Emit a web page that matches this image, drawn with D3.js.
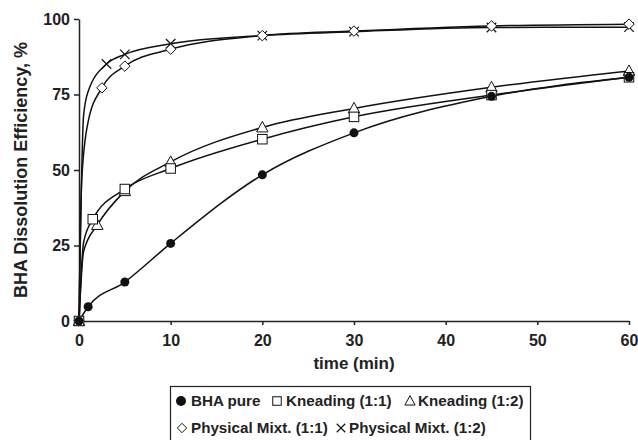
<!DOCTYPE html>
<html lang="en">
<head>
    <meta charset="UTF-8">
    <title>BHA Dissolution Efficiency</title>
    <script src="https://d3js.org/d3.v7.min.js"></script>
    <style>
        body {
            margin: 0;
            background: #fff;
            font-family: "Liberation Sans", Arial, sans-serif;
        }
        svg { display: block; }
        .tick text {
            font-size: 16px;
            font-weight: bold;
            fill: #222;
        }
        .axis path, .axis line {
            stroke: #222;
            stroke-width: 1.5px;
        }
        .series-line {
            fill: none;
            stroke: #111;
            stroke-width: 1.5px;
        }
        .axis-title {
            font-size: 17px;
            font-weight: bold;
            fill: #222;
        }
        .legend-text {
            font-size: 15.2px;
            font-weight: bold;
            fill: #222;
        }
    </style>
</head>
<body>
<div id="chart"></div>
<script>
    const width = 638;
    const height = 440;

    // measured points (with markers)
    const bhaTime = [0, 1, 5, 10, 20, 30, 45, 60];
    const bhaValue = [0, 4.7, 12.9, 25.7, 48.4, 62.3, 74.4, 80.7];

    const kn11Time = [0, 1.5, 5, 10, 20, 30, 45, 60];
    const kn11Value = [0, 33.7, 43.7, 50.5, 60.2, 67.6, 74.8, 80.7];

    const kn12Time = [0, 2, 5, 10, 20, 30, 45, 60];
    const kn12Value = [0, 31.8, 43, 52.7, 64.1, 70.4, 77.4, 82.8];

    const pm11Time = [0, 2.5, 5, 10, 20, 30, 45, 60];
    const pm11Value = [0, 77.2, 84.4, 90, 94.5, 96, 97.7, 98.3];

    const pm12Time = [0, 3, 5, 10, 20, 30, 45, 60];
    const pm12Value = [0, 85.1, 88.3, 91.8, 94.5, 95.8, 97.2, 97.3];

    // points read off the steep start of each curve (no marker shown)
    const kn11TraceTime = [0.5], kn11TraceValue = [26];
    const kn12TraceTime = [0.5], kn12TraceValue = [23];
    const pm11TraceTime = [0.3, 1], pm11TraceValue = [47, 66];
    const pm12TraceTime = [0.5, 1], pm12TraceValue = [68, 76];

    const xTicks = [0, 10, 20, 30, 40, 50, 60];
    const yTicks = [0, 25, 50, 75, 100];

    const zip = (t, v) => t.map((d, i) => ({ t: d, v: v[i] }));

    const series = [
        { name: "BHA pure", symbol: "circle", pts: zip(bhaTime, bhaValue), trace: [] },
        { name: "Kneading (1:1)", symbol: "square", pts: zip(kn11Time, kn11Value), trace: zip(kn11TraceTime, kn11TraceValue) },
        { name: "Kneading (1:2)", symbol: "triangle", pts: zip(kn12Time, kn12Value), trace: zip(kn12TraceTime, kn12TraceValue) },
        { name: "Physical Mixt. (1:1)", symbol: "diamond", pts: zip(pm11Time, pm11Value), trace: zip(pm11TraceTime, pm11TraceValue) },
        { name: "Physical Mixt. (1:2)", symbol: "cross", pts: zip(pm12Time, pm12Value), trace: zip(pm12TraceTime, pm12TraceValue) }
    ];

    const svg = d3.select("#chart").append("svg")
        .attr("width", width)
        .attr("height", height);

    const x = d3.scaleLinear().domain([0, 60]).range([79, 629]);
    const y = d3.scaleLinear().domain([0, 100]).range([321, 19]);

    // axes
    svg.append("g")
        .attr("class", "axis")
        .attr("transform", `translate(0,${y(0)})`)
        .call(d3.axisBottom(x).tickValues(xTicks).tickSize(4).tickSizeOuter(0).tickPadding(10));

    svg.append("g")
        .attr("class", "axis")
        .attr("transform", `translate(${x(0)},0)`)
        .call(d3.axisLeft(y).tickValues(yTicks).tickSize(5).tickSizeOuter(0).tickPadding(4));

    svg.append("text")
        .attr("class", "axis-title")
        .attr("x", 354)
        .attr("y", 369)
        .attr("text-anchor", "middle")
        .text("time (min)");

    svg.append("text")
        .attr("class", "axis-title")
        .attr("transform", "translate(27,170) rotate(-90)")
        .attr("text-anchor", "middle")
        .style("font-size", "18px")
        .text("BHA Dissolution Efficiency, %");

    // marker shapes
    function drawMarker(g, type, s) {
        if (type === "circle") {
            g.append("circle").attr("r", s * 0.5).attr("fill", "#111");
        } else if (type === "square") {
            g.append("rect").attr("x", -s / 2).attr("y", -s / 2)
                .attr("width", s).attr("height", s)
                .attr("fill", "#fff").attr("stroke", "#111").attr("stroke-width", 1);
        } else if (type === "triangle") {
            const h = s * 1.05;
            g.append("path")
                .attr("d", `M0,${-h * 0.6}L${s * 0.6},${h * 0.45}L${-s * 0.6},${h * 0.45}Z`)
                .attr("fill", "#fff").attr("stroke", "#111").attr("stroke-width", 1);
        } else if (type === "diamond") {
            const r = s * 0.55;
            g.append("path")
                .attr("d", `M0,${-r}L${r},0L0,${r}L${-r},0Z`)
                .attr("fill", "#fff").attr("stroke", "#111").attr("stroke-width", 1);
        } else if (type === "cross") {
            const r = s * 0.5;
            g.append("path")
                .attr("d", `M${-r},${-r}L${r},${r}M${r},${-r}L${-r},${r}`)
                .attr("fill", "none").attr("stroke", "#111").attr("stroke-width", 1.2);
        }
    }

    const line = d3.line()
        .x(d => x(d.t))
        .y(d => y(d.v))
        .curve(d3.curveMonotoneX);

    const lines = svg.append("g");
    series.forEach(s => {
        const all = s.pts.concat(s.trace).sort((a, b) => a.t - b.t);
        lines.append("path")
            .attr("class", "series-line")
            .attr("d", line(all));
    });

    const marks = svg.append("g");
    // draw in reverse so that BHA pure sits on top
    series.slice().reverse().forEach(s => {
        s.pts.forEach(p => {
            const g = marks.append("g")
                .attr("transform", `translate(${x(p.t)},${y(p.v)})`);
            drawMarker(g, s.symbol, s.symbol === "circle" ? 9 : 9.5);
        });
    });

    // legend
    const legend = svg.append("g");
    legend.append("rect")
        .attr("x", 170.5).attr("y", 386.5)
        .attr("width", 360).attr("height", 70)
        .attr("fill", "#fff")
        .attr("stroke", "#222")
        .attr("stroke-width", 1.2);

    const legendLayout = [
        { sx: 181, tx: 191, row: 401 },
        { sx: 277, tx: 286, row: 401 },
        { sx: 410, tx: 418, row: 401 },
        { sx: 182, tx: 191, row: 428 },
        { sx: 341, tx: 349, row: 428 }
    ];

    series.forEach((s, i) => {
        const L = legendLayout[i];
        const g = legend.append("g").attr("transform", `translate(${L.sx},${L.row})`);
        drawMarker(g, s.symbol, s.symbol === "circle" ? 10 : 8.5);
        legend.append("text")
            .attr("class", "legend-text")
            .attr("x", L.tx)
            .attr("y", L.row)
            .attr("dy", "0.36em")
            .text(s.name);
    });
</script>
</body>
</html>
